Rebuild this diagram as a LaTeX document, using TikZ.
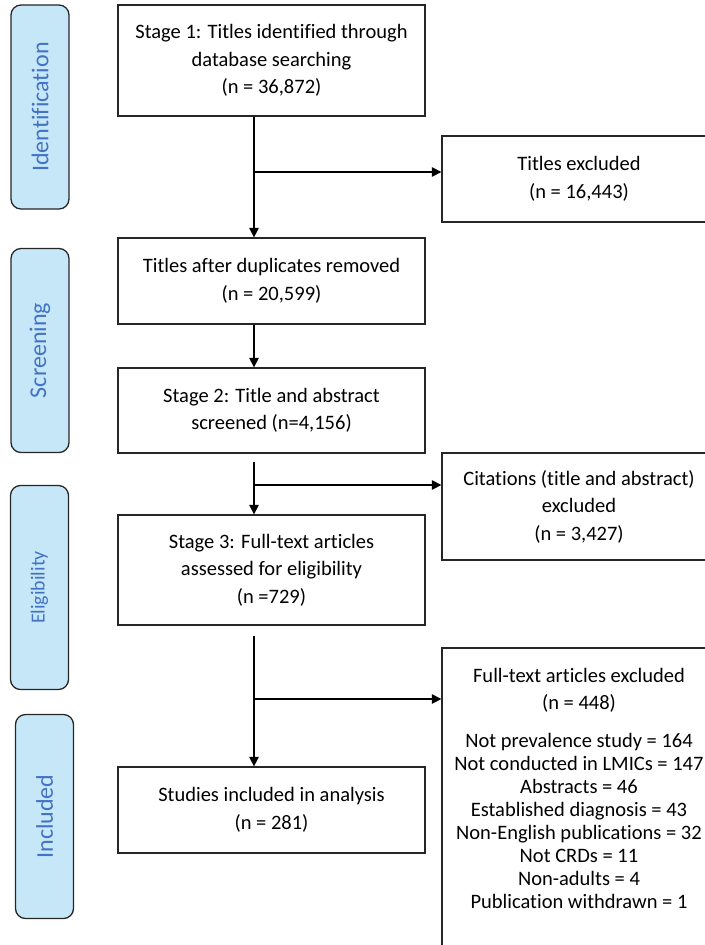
\documentclass[tikz,border=0pt]{standalone}
\usepackage{fontspec}
\setmainfont{Carlito}[Ligatures=NoCommon]
\usepackage{xcolor}
\usepackage{tikz}
\usetikzlibrary{positioning, arrows.meta, calc}
\definecolor{stagefill}{HTML}{C6E7F7}
\definecolor{stageblue}{HTML}{4472C4}
\newcommand{\ftexfont}{\fontsize{17.5}{19.6}\selectfont\lineskiplimit=-100pt\relax}
\tikzstyle{line} = [draw, line width=1.1pt, -{Triangle[length=8pt,width=8pt]}]
\tikzstyle{block} = [rectangle, draw=black!85, line width=1.1pt, align=center,
    minimum width=9.21cm, font=\fontsize{17.5}{23.5}\selectfont]
\tikzstyle{excl} = [block, minimum width=8.22cm]
\tikzstyle{side} = [rectangle, rounded corners=0.3cm, draw=black!85, line width=1.1pt,
    fill=stagefill, text=stageblue, rotate=90, minimum width=6.12cm,
    minimum height=1.74cm, font=\fontsize{20.5}{24}\selectfont]

\begin{document}
\begin{tikzpicture}[x=0.03cm, y=-0.03cm]
      \useasboundingbox (0,0) rectangle (705,945);
      \clip (0,0) rectangle (705,945);
      % Stage labels
      \node [side] (ident) at (40,107) {Identification};
      \node [side] (screening) at (40,350.5) {Screening};
      \node [side, font=\fontsize{17}{20}\selectfont] (elig) at (39.5,587.5) {Eligibility};
      \node [side] (incl) at (44.5,816.5) {Included};

      % Main column
      \node [block, minimum height=3.33cm] (search) at (271.5,60.5) {Stage 1: Titles identified through\\database searching\\(n = 36,872)};
      \node [block, minimum height=2.58cm] (dedup) at (271.5,281) {Titles after duplicates removed\\(n = 20,599)};
      \node [block, minimum height=2.55cm] (screen) at (271.5,410.5) {Stage 2: Title and abstract\\screened (n=4,156)};
      \node [block, minimum height=3.3cm] (fulltext) at (271.5,570) {Stage 3: Full-text articles\\assessed for eligibility\\(n =729)};
      \node [block, minimum height=2.58cm] (included) at (271.5,810) {Studies included in analysis\\(n = 281)};

      % Exclusions
      \node [excl, minimum height=2.58cm] (titlesex) at (579,179) {Titles excluded\\(n = 16,443)};
      \node [excl, minimum height=3.21cm] (citex) at (579,506.5) {Citations (title and abstract)\\excluded\\(n = 3,427)};
      \node [excl, minimum height=9.36cm] (ftex) at (579,804) {};
      \node [below=0.5cm of ftex.north, align=center, font=\ftexfont] (ftexlist)
        {Full-text articles excluded\\[3.4pt](n = 448)\\[12.8pt]Not prevalence study = 164\\Not conducted in LMICs = 147\\Abstracts = 46\\Established diagnosis = 43\\Non-English publications = 32\\Not CRDs = 11\\Non-adults = 4\\Publication withdrawn = 1};

      % Flow
      \coordinate (trunk) at (254,0);
      \coordinate (b1) at (254,172);
      \coordinate (b2) at (254,485);
      \coordinate (b3) at (254,699);
      \coordinate (gap2) at (254,462);
      \coordinate (gap3) at (254,636);
      \path [line] (search.south -| trunk) -- (dedup.north -| trunk);
      \path [line] (b1) -- (b1 -| titlesex.west);
      \path [line] (dedup.south -| trunk) -- (screen.north -| trunk);
      \path [line] (gap2) -- (fulltext.north -| trunk);
      \path [line] (b2) -- (b2 -| citex.west);
      \path [line] (gap3) -- (included.north -| trunk);
      \path [line] (b3) -- (b3 -| ftex.west);
\end{tikzpicture}
\end{document}
